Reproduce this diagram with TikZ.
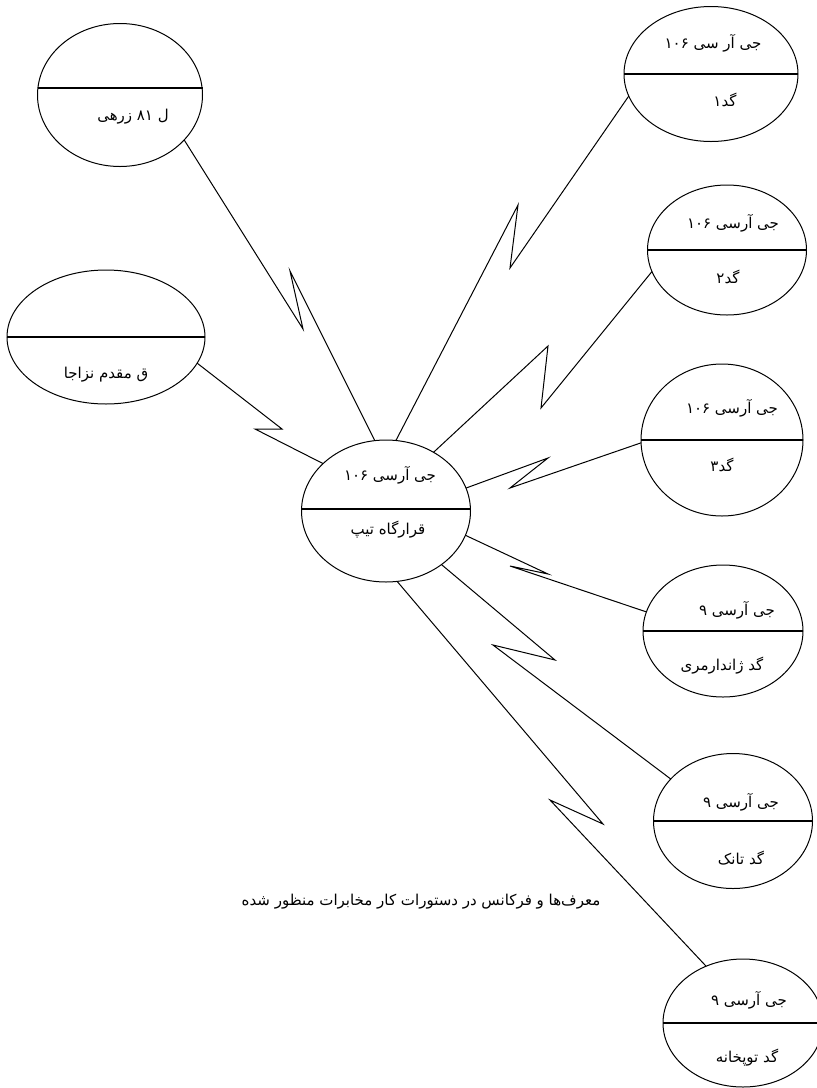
\documentclass[tikz,border=0pt]{standalone}
\usepackage{fontspec}
\usetikzlibrary{shapes.geometric}
\TeXXeTstate=1
\newfontfamily\arabicfont[Script=Arabic]{DejaVu Sans}
\newcommand{\fa}[1]{\arabicfont\beginR #1\endR}
\tikzset{
  el/.style={draw, ellipse, line width=1pt, inner sep=0pt, outer sep=0pt},
  divline/.style={line width=1.2pt},
  lbl/.style={font=\fontsize{15}{17}\selectfont, inner sep=0pt},
  bolt/.style={line width=1pt, line join=miter},
}
\begin{document}
\begin{tikzpicture}[x=1pt, y=-1pt]
\fill[white] (0,0) rectangle (817,1088);
\useasboundingbox (0,0) rectangle (817,1088);

% ellipses
\node[el, minimum width=165, minimum height=143] (zr) at (120,95) {};
\node[el, minimum width=198, minimum height=134] (mq) at (106,337) {};
\node[el, minimum width=169, minimum height=142] (hq) at (386,511) {};
\node[el, minimum width=174, minimum height=135] (g1) at (711,74) {};
\node[el, minimum width=159, minimum height=130] (g2) at (727,250) {};
\node[el, minimum width=162, minimum height=152] (g3) at (722,440) {};
\node[el, minimum width=160, minimum height=132] (gz) at (723,631) {};
\node[el, minimum width=159, minimum height=135] (tk) at (733,821) {};
\node[el, minimum width=160, minimum height=128] (tp) at (743,1023) {};

% dividers
\foreach \n/\d in {zr/7, mq/0, hq/2, g1/0, g2/0, g3/0, gz/0, tk/0, tp/0}{
  \draw[divline] ([yshift=\d pt]\n.west) -- ([yshift=\d pt]\n.east);
}

% labels
\node[lbl] (zrb) at (133,117) {\fa{ل ۸۱ زرهی}};
\node[lbl] (mqb) at (106,375) {\fa{ق مقدم نزاجا}};
\node[lbl] (hqt) at (390,475) {\fa{جی آرسی ۱۰۶}};
\node[lbl] (hqb) at (388,530) {\fa{قرارگاه تیپ}};
\node[lbl] (g1t) at (713,43) {\fa{جی آر سی ۱۰۶}};
\node[lbl] (g1b) at (725,100) {\fa{گد۱}};
\node[lbl] (g2t) at (733,223) {\fa{جی آرسی ۱۰۶}};
\node[lbl] (g2b) at (728,277) {\fa{گد۲}};
\node[lbl] (g3t) at (732,408) {\fa{جی آرسی ۱۰۶}};
\node[lbl] (g3b) at (722,465) {\fa{گد۳}};
\node[lbl] (gzt) at (737,610) {\fa{جی آرسی ۹}};
\node[lbl] (gzb) at (722,666) {\fa{گد ژاندارمری}};
\node[lbl] (tkt) at (741,802) {\fa{جی آرسی ۹}};
\node[lbl] (tkb) at (741,858) {\fa{گد تانک}};
\node[lbl] (tpt) at (749,1000) {\fa{جی آرسی ۹}};
\node[lbl] (tpb) at (747,1058) {\fa{گد توپخانه}};
\node[lbl] (note) at (421,902) {\fa{معرف‌ها و فرکانس در دستورات کار مخابرات منظور شده}};

% bolt corner points
\coordinate (a1) at (303,329); \coordinate (a2) at (290,271);
\coordinate (b1) at (282,429); \coordinate (b2) at (255,429);
\coordinate (c1) at (518,205); \coordinate (c2) at (510,268);
\coordinate (d1) at (548,346); \coordinate (d2) at (541,408);
\coordinate (e1) at (548,458); \coordinate (e2) at (510,488);
\coordinate (f1) at (548,574); \coordinate (f2) at (510,566);
\coordinate (h1) at (555,660); \coordinate (h2) at (493,645);
\coordinate (k1) at (603,824); \coordinate (k2) at (550,800);

% connectors
\draw[bolt] (zr.-35) -- (a1) -- (a2) -- (hq.99);
\draw[bolt] (mq.-16) -- (b1) -- (b2) -- (hq.143);
\draw[bolt] (hq.82) -- (c1) -- (c2) -- (g1.195);
\draw[bolt] (hq.51.5) -- (d1) -- (d2) -- (g2.196.5);
\draw[bolt] (hq.16) -- (e1) -- (e2) -- (g3.182);
\draw[bolt] (hq.-17) -- (f1) -- (f2) -- (gz.166);
\draw[bolt] (hq.-44) -- (h1) -- (h2) -- (tk.146);
\draw[bolt] (hq.-81) -- (k1) -- (k2) -- (tp.123);
\end{tikzpicture}
\end{document}
